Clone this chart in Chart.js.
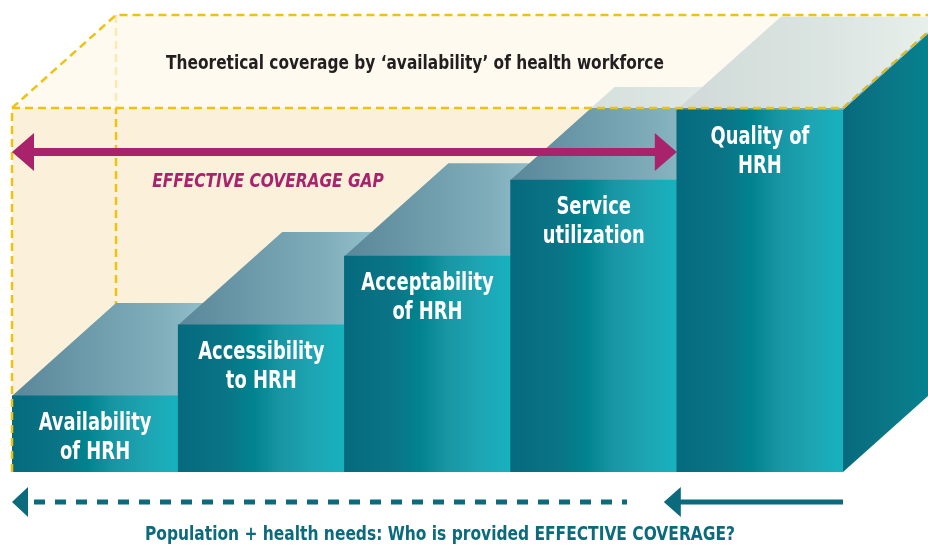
<!DOCTYPE html>
<html lang="en">
<head>
    <meta charset="UTF-8">
    <title>Effective coverage</title>
    <script src="https://cdn.jsdelivr.net/npm/chart.js@4/dist/chart.umd.min.js"></script>
    <style>
        html, body {
            margin: 0;
            padding: 0;
            background: #ffffff;
        }
        canvas {
            display: block;
        }
    </style>
</head>
<body>
<canvas id="chart" width="928" height="545"></canvas>
<script>
    // data
    var categories = ["Availability of HRH", "Accessibility to HRH", "Acceptability of HRH", "Service utilization", "Quality of HRH"];
    var labelLines = [["Availability", "of HRH"], ["Accessibility", "to HRH"], ["Acceptability", "of HRH"], ["Service", "utilization"], ["Quality of", "HRH"]];
    var coverage = [20.9, 40.4, 59.3, 80.2, 99.5];
    var theoretical = 100;
    var titleText = "Theoretical coverage by \u2018availability\u2019 of health workforce";
    var gapText = "EFFECTIVE COVERAGE GAP";
    var bottomText = "Population + health needs: Who is provided EFFECTIVE COVERAGE?";

    var FONT = '"Liberation Sans Narrow", "DejaVu Sans Condensed", "Open Sans", sans-serif';
    var DX = 104, DY = 93;   // depth of the boxes
    var YELLOW = "#efc20f";
    var TEAL = "#0b6b7d";
    var MAGENTA = "#a8226c";

    function barEdges(chart, i) {
        var x = chart.scales.x;
        var half = (x.getPixelForValue(1) - x.getPixelForValue(0)) / 2;
        var c = x.getPixelForValue(i);
        return [c - half, c + half];
    }

    function frontGradient(ctx, x0, x1) {
        var g = ctx.createLinearGradient(x0, 0, x1, 0);
        g.addColorStop(0, "#056a7e");
        g.addColorStop(0.3, "#0a7586");
        g.addColorStop(0.45, "#01838f");
        g.addColorStop(0.62, "#1896a4");
        g.addColorStop(0.82, "#1ea5b3");
        g.addColorStop(1, "#17b2bf");
        return g;
    }

    // narrow text: the fallback fonts are wider than the original condensed face
    function narrowText(ctx, text, x, y, squeeze) {
        ctx.save();
        ctx.translate(x, y);
        ctx.scale(squeeze, 1);
        ctx.fillText(text, 0, 0);
        ctx.restore();
    }

    function dashed(ctx, pts, color, width, dash) {
        ctx.save();
        ctx.strokeStyle = color;
        ctx.lineWidth = width;
        ctx.setLineDash(dash);
        ctx.beginPath();
        ctx.moveTo(pts[0][0], pts[0][1]);
        for (var i = 1; i < pts.length; i++) ctx.lineTo(pts[i][0], pts[i][1]);
        ctx.stroke();
        ctx.restore();
    }

    function head(ctx, tipX, y, dir, len, half, color) {
        ctx.fillStyle = color;
        ctx.beginPath();
        ctx.moveTo(tipX, y);
        ctx.lineTo(tipX + dir * len, y - half);
        ctx.lineTo(tipX + dir * len, y + half);
        ctx.closePath();
        ctx.fill();
    }

    function bandPath(ctx, chart, topY) {
        var a = chart.chartArea;
        ctx.beginPath();
        ctx.moveTo(a.left, topY);
        ctx.lineTo(a.left + DX, topY - DY);
        ctx.lineTo(chart.width, topY - DY);
        ctx.lineTo(chart.width, topY - DY * (chart.width - a.right) / DX);
        ctx.lineTo(a.right, topY);
        ctx.closePath();
    }

    var boxPlugin = {
        id: "box3d",
        beforeDraw: function (chart) {
            var ctx = chart.ctx, a = chart.chartArea;
            var y = chart.scales.y;
            var topY = y.getPixelForValue(theoretical);
            ctx.save();
            // front face of theoretical box
            ctx.fillStyle = "#fbf1db";
            ctx.fillRect(a.left, topY, a.right - a.left, a.bottom - topY);
            // upper band
            ctx.fillStyle = "#fdf9f0";
            bandPath(ctx, chart, topY);
            ctx.fill();
            ctx.restore();
            // back vertical edge
            dashed(ctx, [[a.left + DX, topY - DY], [a.left + DX, a.bottom - DY]], YELLOW, 2.5, [8, 5]);
        },
        beforeDatasetsDraw: function (chart) {
            var ctx = chart.ctx;
            var y = chart.scales.y;
            var topY = y.getPixelForValue(theoretical);
            ctx.save();
            for (var i = 0; i < coverage.length; i++) {
                var e = barEdges(chart, i);
                var t = y.getPixelForValue(coverage[i]);
                var g = ctx.createLinearGradient(e[0], 0, e[1] + DX, 0);
                g.addColorStop(0, "#5a8799");
                g.addColorStop(0.55, "#80aebb");
                g.addColorStop(1, "#b2dbe0");
                ctx.fillStyle = g;
                ctx.beginPath();
                ctx.moveTo(e[0], t);
                ctx.lineTo(e[1], t);
                ctx.lineTo(e[1] + DX, t - DY);
                ctx.lineTo(e[0] + DX, t - DY);
                ctx.closePath();
                ctx.fill();
            }
            // translucent upper band of the theoretical box over the tops
            ctx.fillStyle = "rgba(253, 249, 240, 0.72)";
            bandPath(ctx, chart, topY);
            ctx.fill();
            ctx.restore();
        },
        afterDatasetsDraw: function (chart) {
            var ctx = chart.ctx, a = chart.chartArea;
            var y = chart.scales.y;
            var topY = y.getPixelForValue(theoretical);
            var n = coverage.length;
            var last = barEdges(chart, n - 1);
            var tLast = y.getPixelForValue(coverage[n - 1]);

            ctx.save();
            // side face of the last bar
            var sg = ctx.createLinearGradient(last[1], 0, last[1] + DX, 0);
            sg.addColorStop(0, "#066a7d");
            sg.addColorStop(0.45, "#0b7786");
            sg.addColorStop(1, "#038592");
            ctx.fillStyle = sg;
            ctx.beginPath();
            ctx.moveTo(last[1], tLast);
            ctx.lineTo(last[1] + DX, tLast - DY);
            ctx.lineTo(last[1] + DX, a.bottom - DY);
            ctx.lineTo(last[1], a.bottom);
            ctx.closePath();
            ctx.fill();
            ctx.restore();

            // dashed outline of theoretical box
            dashed(ctx, [[a.left, a.bottom], [a.left, topY], [a.right, topY]], YELLOW, 2.5, [8, 5]);
            dashed(ctx, [[a.left, topY], [a.left + DX, topY - DY], [chart.width, topY - DY]], YELLOW, 2.5, [8, 5]);
            dashed(ctx, [[a.right, topY], [a.right + DX, topY - DY]], "#d8b82a", 2.5, [8, 5]);

            ctx.save();
            // bar labels
            ctx.fillStyle = "#ffffff";
            ctx.textAlign = "center";
            ctx.textBaseline = "middle";
            ctx.font = "bold 24px " + FONT;
            for (var i = 0; i < n; i++) {
                var e = barEdges(chart, i);
                var cx = (e[0] + e[1]) / 2;
                var t = y.getPixelForValue(coverage[i]);
                for (var k = 0; k < labelLines[i].length; k++) {
                    narrowText(ctx, labelLines[i][k], cx, t + 28 + k * 29, 0.83);
                }
            }

            // title
            ctx.fillStyle = "#231f20";
            ctx.font = "bold 19px " + FONT;
            narrowText(ctx, titleText, 415, topY - 44, 0.9);

            // effective coverage gap arrow
            var ay = topY + 44;
            ctx.strokeStyle = MAGENTA;
            ctx.lineWidth = 8;
            ctx.beginPath();
            ctx.moveTo(a.left + 20, ay);
            ctx.lineTo(last[0] - 20, ay);
            ctx.stroke();
            head(ctx, a.left, ay, 1, 22, 19, MAGENTA);
            head(ctx, last[0], ay, -1, 22, 19, MAGENTA);
            ctx.fillStyle = MAGENTA;
            ctx.font = "italic bold 19px " + FONT;
            narrowText(ctx, gapText, 268, ay + 30, 0.9);

            // bottom arrows
            var by = a.bottom + 30;
            ctx.strokeStyle = TEAL;
            ctx.lineWidth = 5;
            ctx.setLineDash([11, 10]);
            ctx.beginPath();
            ctx.moveTo(a.left + 22, by);
            ctx.lineTo(627, by);
            ctx.stroke();
            ctx.setLineDash([]);
            head(ctx, a.left, by, 1, 16, 15, TEAL);
            ctx.beginPath();
            ctx.moveTo(last[0] - 5, by);
            ctx.lineTo(a.right, by);
            ctx.stroke();
            head(ctx, last[0] - 13, by, 1, 17, 15, TEAL);

            ctx.fillStyle = TEAL;
            ctx.font = "bold 19px " + FONT;
            narrowText(ctx, bottomText, 440, by + 33, 0.905);
            ctx.restore();
        }
    };

    var canvas = document.getElementById("chart");
    new Chart(canvas.getContext("2d"), {
        type: "bar",
        data: {
            labels: categories,
            datasets: [{
                data: coverage,
                borderWidth: 0,
                barPercentage: 1,
                categoryPercentage: 1,
                backgroundColor: function (c) {
                    var chart = c.chart;
                    if (!chart.chartArea || !chart.scales.x) return "#0a7b8b";
                    var e = barEdges(chart, c.dataIndex);
                    return frontGradient(chart.ctx, e[0], e[1]);
                }
            }]
        },
        options: {
            responsive: false,
            animation: false,
            layout: {padding: {left: 12, right: 85, top: 108, bottom: 73}},
            scales: {
                x: {display: false},
                y: {display: false, min: 0, max: theoretical}
            },
            plugins: {
                legend: {display: false},
                tooltip: {enabled: false}
            }
        },
        plugins: [boxPlugin]
    });
</script>
</body>
</html>
